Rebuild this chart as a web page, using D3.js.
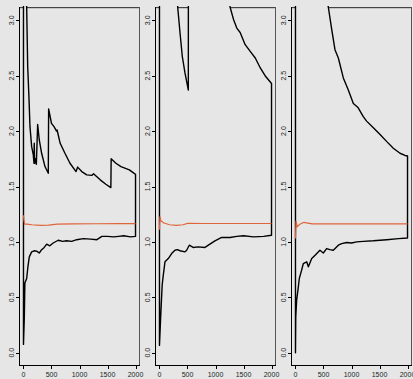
<!DOCTYPE html>
<html><head><meta charset="utf-8">
<script src="https://cdn.jsdelivr.net/npm/d3@7"></script>
<style>html,body{margin:0;padding:0;background:#e6e6e6;}svg{display:block;}</style>
</head><body>
<svg id="chart" width="413" height="379"></svg>
<script>
// ---- data (x = iteration, y = value) ----
const xTicks = [0, 500, 1000, 1500, 2000];
const yTicks = [0, 0.5, 1, 1.5, 2, 2.5, 3];
const yTickLabels = ["0.0", "0.5", "1.0", "1.5", "2.0", "2.5", "3.0"];

const lower1 = [[0,0.075],[15,0.32],[25,0.63],[57,0.67],[80,0.78],[104,0.865],[146,0.91],[190,0.92],[235,0.917],[282,0.90],[324,0.93],[370,0.95],[414,0.98],[470,0.965],[530,0.99],[620,1.015],[700,1.005],[770,1.01],[860,1.005],[950,1.02],[1070,1.03],[1200,1.025],[1310,1.02],[1400,1.05],[1500,1.05],[1610,1.045],[1700,1.05],[1790,1.055],[1910,1.045],[2000,1.05]];
const est1 = [[0,1.24],[8,1.2],[20,1.16],[60,1.16],[150,1.155],[300,1.15],[450,1.152],[600,1.16],[900,1.162],[1300,1.164],[1700,1.165],[2000,1.165]];
const upper1 = [[0,8],[30,4.5],[50,3.4],[57,3.12],[75,2.585],[98,2.30],[116,2.04],[146,1.86],[175,1.785],[187,1.71],[192,1.89],[200,1.71],[215,1.75],[230,1.70],[253,2.06],[282,1.92],[324,1.80],[384,1.68],[443,1.62],[449,2.20],[500,2.07],[545,2.04],[590,2.00],[600,2.01],[655,1.89],[740,1.80],[830,1.71],[938,1.635],[967,1.675],[1040,1.635],[1130,1.605],[1220,1.60],[1250,1.615],[1370,1.56],[1470,1.52],[1560,1.49],[1565,1.75],[1650,1.71],[1740,1.68],[1890,1.65],[2000,1.61]];

const lower2 = [[0,0.066],[21,0.32],[48,0.61],[68,0.70],[98,0.82],[157,0.85],[217,0.895],[276,0.925],[320,0.93],[366,0.92],[455,0.91],[485,0.925],[532,0.97],[600,0.95],[690,0.955],[812,0.95],[900,0.98],[990,1.01],[1110,1.04],[1260,1.04],[1380,1.05],[1500,1.055],[1680,1.045],[1860,1.05],[2000,1.06]];
const est2 = [[0,1.11],[8,1.23],[25,1.19],[80,1.17],[180,1.155],[300,1.15],[420,1.155],[500,1.167],[800,1.166],[1200,1.166],[1600,1.166],[2000,1.166]];
const upper2 = [[0,9],[200,4],[300,3.35],[325,3.12],[366,2.89],[407,2.675],[455,2.525],[515,2.37],[518,6],[1000,5],[1200,3.5],[1260,3.12],[1320,3.01],[1380,2.93],[1440,2.89],[1530,2.78],[1620,2.72],[1710,2.66],[1800,2.57],[1885,2.50],[2000,2.43]];

const lower3 = [[0,0.0],[5,0.32],[20,0.47],[50,0.59],[68,0.67],[110,0.745],[140,0.805],[200,0.82],[230,0.775],[290,0.85],[350,0.88],[437,0.925],[497,0.90],[556,0.94],[615,0.93],[675,0.925],[765,0.97],[824,0.985],[914,0.995],[1000,0.99],[1094,1.0],[1210,1.005],[1390,1.01],[1630,1.02],[1840,1.03],[2000,1.035]];
const est3 = [[0,1.03],[10,1.19],[30,1.137],[80,1.16],[150,1.177],[220,1.17],[300,1.162],[600,1.163],[1000,1.162],[1500,1.162],[2000,1.162]];
const upper3 = [[0,9],[300,4.2],[500,3.35],[586,3.12],[646,2.92],[705,2.735],[765,2.66],[854,2.48],[943,2.37],[1033,2.25],[1120,2.21],[1210,2.13],[1270,2.09],[1390,2.03],[1510,1.97],[1630,1.905],[1746,1.845],[1866,1.80],[1955,1.78],[2000,1.775]];

const panels = [
  {lower: lower1, est: est1, upper: upper1},
  {lower: lower2, est: est2, upper: upper2},
  {lower: lower3, est: est3, upper: upper3}
];

// ---- drawing ----
const BG = "#e6e6e6";
const svg = d3.select("#chart");
svg.append("rect").attr("width", 413).attr("height", 379).attr("fill", BG);
const panelLefts = [19, 155, 291];
const W = 121, TOP = 7, BOT = 366;
const font = "'Liberation Sans Narrow','Liberation Sans',Arial,sans-serif";

panels.forEach((p, i) => {
  const L = panelLefts[i];
  const x = d3.scaleLinear().domain([-80, 2080]).range([L, L + W]);
  const y = d3.scaleLinear().domain([-0.12, 3.12]).range([BOT, TOP]);
  const g = svg.append("g");

  // box (top and right edges)
  g.append("rect").attr("x", L).attr("y", TOP).attr("width", W).attr("height", 1.2).attr("fill", "#444");
  g.append("rect").attr("x", L + W - 1).attr("y", TOP).attr("width", 1).attr("height", BOT - TOP).attr("fill", "#555");

  // clip
  const cid = "clip" + i;
  svg.append("clipPath").attr("id", cid).append("rect")
    .attr("x", L + 1).attr("y", TOP - 1).attr("width", W - 2).attr("height", BOT - TOP + 1);
  const pg = g.append("g").attr("clip-path", `url(#${cid})`);

  const line = d3.line().x(d => x(d[0])).y(d => y(d[1]));
  const poly = p.lower.concat(p.upper.slice().reverse());
  pg.append("path").attr("d", line(poly) + "Z")
    .attr("fill", BG).attr("stroke", "#000").attr("stroke-width", 1.4).attr("stroke-linejoin", "round");
  pg.append("path").attr("d", line(p.est))
    .attr("fill", "none").attr("stroke", "#e0643a").attr("stroke-width", 1.2);

  // axes lines (left, bottom)
  g.append("line").attr("x1", L + 0.5).attr("x2", L + 0.5).attr("y1", TOP).attr("y2", BOT).attr("stroke", "#000");
  g.append("line").attr("x1", L).attr("x2", L + W).attr("y1", BOT - 0.5).attr("y2", BOT - 0.5).attr("stroke", "#000");

  // y ticks
  yTicks.forEach((t, k) => {
    const yy = Math.round(y(t)) + 0.5;
    g.append("line").attr("x1", L - 3).attr("x2", L).attr("y1", yy).attr("y2", yy).attr("stroke", "#000");
    g.append("text").attr("transform", `translate(${L - 7.5},${y(t)}) rotate(-90)`)
      .attr("text-anchor", "middle").attr("dy", "0.35em")
      .attr("font-family", font).attr("font-size", 7).attr("fill", "#222")
      .text(yTickLabels[k]);
  });
  // x ticks
  xTicks.forEach(t => {
    const xx = Math.round(x(t)) + 0.5;
    g.append("line").attr("x1", xx).attr("x2", xx).attr("y1", BOT).attr("y2", BOT + 3).attr("stroke", "#000");
    g.append("text").attr("x", x(t)).attr("y", 377)
      .attr("text-anchor", "middle")
      .attr("font-family", font).attr("font-size", 7).attr("fill", "#222")
      .text(t);
  });
});
</script>
</body></html>
